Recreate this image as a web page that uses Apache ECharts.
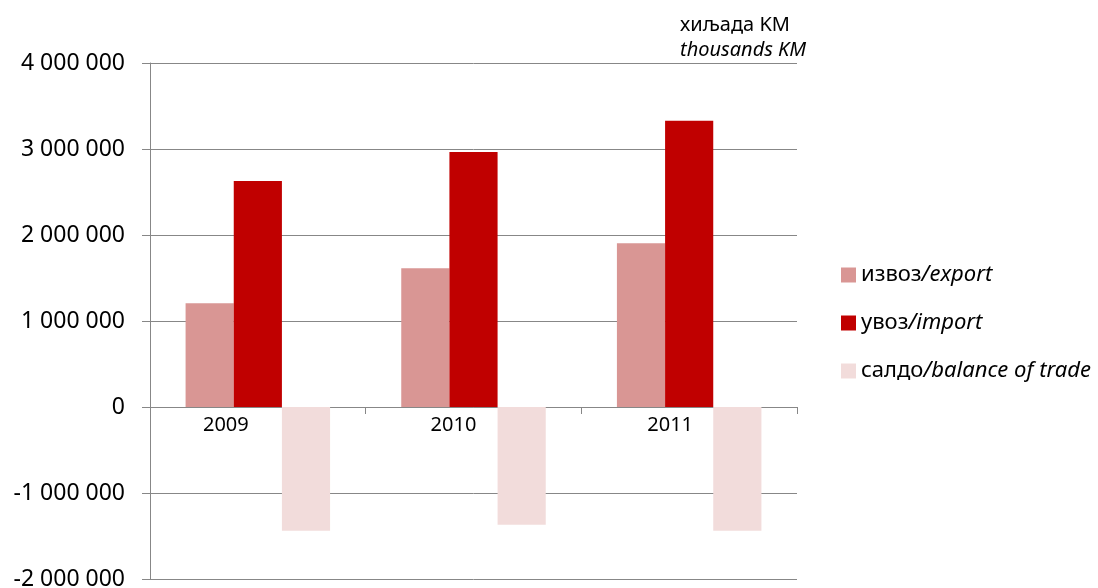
<!DOCTYPE html>
<html>
<head>
<meta charset="utf-8">
<script src="https://cdn.jsdelivr.net/npm/echarts@6/dist/echarts.min.js"></script>
<style>
  html, body { margin: 0; padding: 0; background: #fff; }
  #chart { width: 1098px; height: 588px; }
</style>
</head>
<body>
<div id="chart"></div>
<script>
var years = ['2009', '2010', '2011'];
var exportVals = [1206000, 1613000, 1903000];
var importVals = [2628000, 2965000, 3329000];
var balanceVals = [-1438000, -1368000, -1438000];
var seriesNames = ['извоз/export', 'увоз/import', 'салдо/balance of trade'];
var yTicks = [-2000000, -1000000, 0, 1000000, 2000000, 3000000, 4000000];

(function () {
  var font = 'Noto Sans';
  var grid = '#878787';
  var ink = '#000';
  var colors = ['#d99694', '#c00000', '#f2dcdb'];
  // label shifts (px) to mimic the original's off-centre year labels
  var shifts = [-32, -20, -19];

  var chart = echarts.init(document.getElementById('chart'));
  chart.setOption({
    animation: false,
    color: colors,
    title: {
      left: 675,
      top: 8,
      text: '{a|хиљада KM}\n{b|thousands KM}',
      textStyle: {
        fontWeight: 'normal',
        rich: {
          a: { fontFamily: font, fontSize: 20, fontWeight: 'normal', color: ink, lineHeight: 25 },
          b: { fontFamily: font, fontSize: 20, fontWeight: 'normal', fontStyle: 'italic', color: ink, lineHeight: 25 }
        }
      }
    },
    legend: {
      orient: 'vertical',
      left: 836,
      top: 259,
      itemWidth: 15,
      itemHeight: 15,
      itemGap: 26,
      icon: 'rect',
      data: seriesNames,
      formatter: function (name) {
        var p = name.split('/');
        return '{n|' + p[0] + '}{i|/' + p.slice(1).join('/') + '}';
      },
      textStyle: {
        rich: {
          n: { fontFamily: font, fontSize: 22, color: ink },
          i: { fontFamily: font, fontSize: 22, fontStyle: 'italic', color: ink }
        }
      }
    },
    grid: { left: 150, right: 301, top: 63, bottom: 9, outerBoundsMode: 'none' },
    xAxis: {
      type: 'category',
      data: years,
      axisLine: { onZero: true, lineStyle: { color: grid, width: 1 } },
      axisTick: { show: true, length: 7, lineStyle: { color: grid } },
      axisLabel: {
        // labels sit at the grid bottom in v6; pull them up under the zero line
        margin: -164,
        formatter: function (v, i) { return '{s' + i + '|' + v + '}'; },
        rich: {
          s0: { fontFamily: font, fontSize: 20, color: ink, padding: [0, -2 * shifts[0], 0, 0] },
          s1: { fontFamily: font, fontSize: 20, color: ink, padding: [0, -2 * shifts[1], 0, 0] },
          s2: { fontFamily: font, fontSize: 20, color: ink, padding: [0, -2 * shifts[2], 0, 0] }
        }
      }
    },
    yAxis: {
      type: 'value',
      min: yTicks[0],
      max: yTicks[yTicks.length - 1],
      interval: 1000000,
      axisLine: { show: true, lineStyle: { color: grid, width: 1 } },
      axisTick: { show: true, length: 8, lineStyle: { color: grid } },
      splitLine: { lineStyle: { color: grid, width: 1 } },
      axisLabel: {
        margin: 25,
        fontFamily: font,
        fontSize: 23,
        color: ink,
        formatter: function (v) {
          var s = String(Math.abs(v)).replace(/\B(?=(\d{3})+(?!\d))/g, ' ');
          return (v < 0 ? '-' : '') + s;
        }
      }
    },
    series: [
      { name: seriesNames[0], type: 'bar', data: exportVals, barGap: '0%', barCategoryGap: '33%' },
      { name: seriesNames[1], type: 'bar', data: importVals, barGap: '0%', barCategoryGap: '33%' },
      { name: seriesNames[2], type: 'bar', data: balanceVals, barGap: '0%', barCategoryGap: '33%' }
    ]
  });
})();
</script>
</body>
</html>
